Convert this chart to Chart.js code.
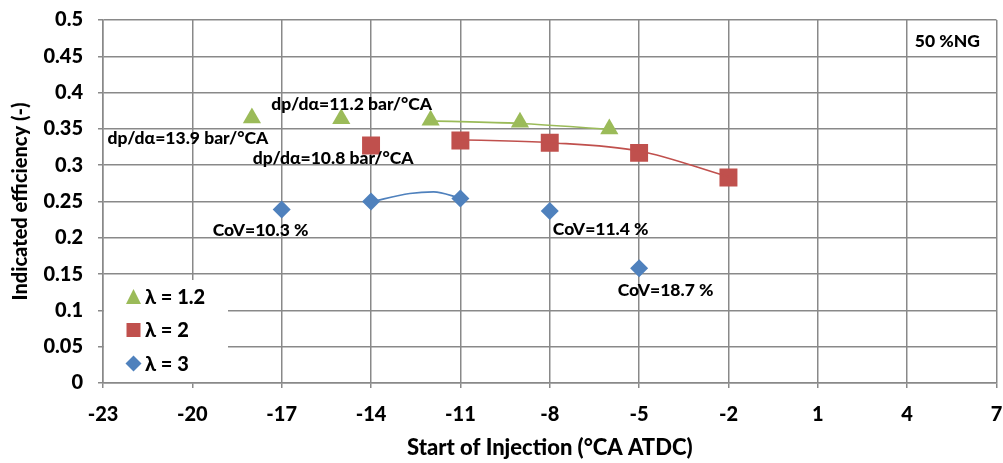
<!DOCTYPE html>
<html>
<head>
<meta charset="utf-8">
<title>Indicated efficiency vs start of injection</title>
<script src="https://cdn.jsdelivr.net/npm/chart.js@4.4.1/dist/chart.umd.min.js"></script>
<style>
    html, body { margin: 0; padding: 0; background: #fff; }
    #chart { display: block; }
</style>
</head>
<body>
<canvas id="chart" width="1003" height="463"></canvas>
<script>
// measured points, start of injection (°CA ATDC) vs indicated efficiency
const soiL12 = [-18, -15, -12, -9, -6];
const effL12 = [0.365, 0.364, 0.362, 0.359, 0.350];
const soiL2 = [-14, -11, -8, -5, -2];
const effL2 = [0.327, 0.334, 0.331, 0.317, 0.283];
const soiL3 = [-17, -14, -11, -8, -5];
const effL3 = [0.239, 0.250, 0.254, 0.237, 0.158];

// trend curves
const trendL12x = [-12, -9, -6];
const trendL12y = [0.361, 0.3575, 0.3495];
const trendL2x = [-11, -8, -5, -2];
const trendL2y = [0.335, 0.331, 0.3195, 0.284];
const trendL3x = [-14, -12.7, -11.9, -11];
const trendL3y = [0.2495, 0.261, 0.2633, 0.2545];

const seriesNames = ['λ = 1.2', 'λ = 2', 'λ = 3'];
const xTicks = [-23, -20, -17, -14, -11, -8, -5, -2, 1, 4, 7];

// text notes placed in data units
const noteText = ['dp/dα=11.2 bar/°CA', 'dp/dα=13.9 bar/°CA', 'dp/dα=10.8 bar/°CA',
    'CoV=10.3 %', 'CoV=11.4 %', 'CoV=18.7 %', '50 %NG'];
const noteX = [-14.65, -20.15, -15.27, -17.71, -6.29, -4.11, 5.35];
const noteY = [0.384, 0.337, 0.3096, 0.2105, 0.212, 0.128, 0.4706];

const GREEN = '#9BBB59';
const RED = '#C0504D';
const BLUE = '#4F81BD';
const GRID = '#898989';
const FONT = 'Lato, "Open Sans", sans-serif';

const pts = (xs, ys) => xs.map((x, i) => ({ x: x, y: ys[i] }));

function marker(label, xs, ys, color, style, radius) {
    return {
        label: label,
        data: pts(xs, ys),
        showLine: false,
        pointStyle: style,
        pointRadius: radius,
        pointHoverRadius: radius,
        pointBackgroundColor: color,
        pointBorderColor: color,
        pointBorderWidth: 0,
        backgroundColor: color,
        borderColor: color
    };
}

function trend(xs, ys, color) {
    return {
        data: pts(xs, ys),
        showLine: true,
        pointRadius: 0,
        borderColor: color,
        borderWidth: 1.6,
        cubicInterpolationMode: 'monotone',
        fill: false
    };
}

const notesPlugin = {
    id: 'notes',
    afterDraw(chart) {
        const ctx = chart.ctx;
        const xs = chart.scales.x, ys = chart.scales.y;
        ctx.save();
        ctx.fillStyle = '#000';
        ctx.font = '900 17.5px ' + FONT;
        ctx.textAlign = 'center';
        ctx.textBaseline = 'middle';
        noteText.forEach((t, i) => {
            ctx.fillText(t, xs.getPixelForValue(noteX[i]), ys.getPixelForValue(noteY[i]));
        });

        // legend box in the lower left corner of the plot
        const left = chart.chartArea.left + 1;
        const bottom = chart.chartArea.bottom - 1;
        ctx.fillStyle = '#fff';
        ctx.fillRect(left, bottom - 102, 228 - left, 102);

        const mx = 133.5, rows = [bottom - 85, bottom - 52, bottom - 18.5];
        const colors = [GREEN, RED, BLUE];
        rows.forEach((y, i) => {
            ctx.fillStyle = colors[i];
            ctx.beginPath();
            if (i === 0) {
                ctx.moveTo(mx, y - 8);
                ctx.lineTo(mx + 7.5, y + 7);
                ctx.lineTo(mx - 7.5, y + 7);
            } else if (i === 1) {
                ctx.rect(mx - 7, y - 7, 14, 14);
            } else {
                ctx.moveTo(mx, y - 8);
                ctx.lineTo(mx + 8, y);
                ctx.lineTo(mx, y + 8);
                ctx.lineTo(mx - 8, y);
            }
            ctx.closePath();
            ctx.fill();
            ctx.fillStyle = '#000';
            ctx.font = '900 20px ' + FONT;
            ctx.textAlign = 'left';
            ctx.fillText(seriesNames[i], 145, y + 1);
        });
        ctx.restore();
    }
};

new Chart(document.getElementById('chart'), {
    type: 'scatter',
    data: {
        datasets: [
            trend(trendL12x, trendL12y, GREEN),
            trend(trendL2x, trendL2y, RED),
            trend(trendL3x, trendL3y, BLUE),
            marker(seriesNames[0], soiL12, effL12, GREEN, 'triangle', 10.5),
            marker(seriesNames[1], soiL2, effL2, RED, 'rect', 12.7),
            marker(seriesNames[2], soiL3, effL3, BLUE, 'rectRot', 9)
        ]
    },
    options: {
        responsive: false,
        devicePixelRatio: 1,
        animation: false,
        // big markers would otherwise shrink the plot box
        layout: { autoPadding: false, padding: { left: 0, right: 6.5, top: 20, bottom: 0 } },
        plugins: {
            legend: { display: false },
            tooltip: { enabled: false }
        },
        scales: {
            x: {
                type: 'linear',
                min: -23,
                max: 7,
                afterBuildTicks: scale => { scale.ticks = xTicks.map(v => ({ value: v })); },
                afterFit: scale => {
                    // fixed plot box, no extra room for edge labels
                    scale.height = 80;
                    scale.paddingLeft = 0;
                    scale.paddingRight = 0;
                },
                grid: { color: GRID, lineWidth: 1.5, tickLength: 5, drawTicks: true },
                border: { color: GRID, width: 1.5 },
                ticks: {
                    color: '#000',
                    padding: 15,
                    maxRotation: 0,
                    font: { family: FONT, size: 20, weight: '900' }
                },
                title: {
                    display: true,
                    text: 'Start of Injection (°CA ATDC)',
                    color: '#000',
                    padding: { top: 0, bottom: 2 },
                    font: { family: FONT, size: 22, weight: '900' }
                }
            },
            y: {
                min: 0,
                max: 0.5,
                afterFit: scale => {
                    scale.width = 103;
                    scale.paddingTop = 0;
                    scale.paddingBottom = 0;
                },
                grid: { color: GRID, lineWidth: 1.5, tickLength: 5, drawTicks: true },
                border: { color: GRID, width: 1.5 },
                ticks: {
                    stepSize: 0.05,
                    color: '#000',
                    padding: 15,
                    font: { family: FONT, size: 20, weight: '900' },
                    callback: v => String(+v.toFixed(2))
                },
                title: {
                    display: true,
                    text: 'Indicated efficiency (-)',
                    color: '#000',
                    padding: { top: 8.5, bottom: 0 },
                    font: { family: FONT, size: 20, weight: '900' }
                }
            }
        }
    },
    plugins: [notesPlugin]
});
</script>
</body>
</html>
